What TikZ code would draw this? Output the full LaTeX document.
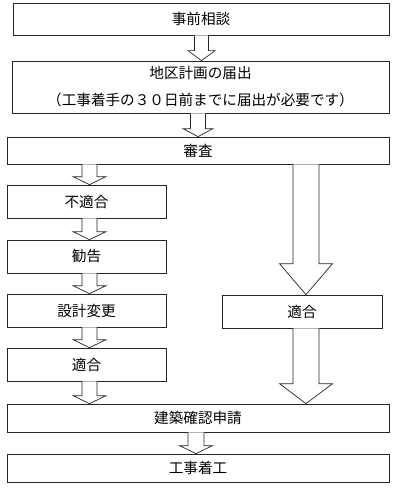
\documentclass[tikz,border=0pt]{standalone}
\usepackage{fontspec}
\newfontfamily\jpfont{Noto Sans CJK JP}
\usetikzlibrary{calc}

\newcommand{\fatarrow}[6]{%
  \draw[arr] let \p1=(#2.south), \p2=(#3.north) in
    (#1pt-#4pt,\y1) -- (#1pt-#4pt,\y2+#6pt) -- (#1pt-#5pt,\y2+#6pt) -- (#1pt,\y2)
    -- (#1pt+#5pt,\y2+#6pt) -- (#1pt+#4pt,\y2+#6pt) -- (#1pt+#4pt,\y1);
}

\begin{document}
\begin{tikzpicture}[x=1pt,y=-1pt,
    box/.style={draw=black!85,line width=0.7pt,rectangle,inner sep=0pt,font=\jpfont\fontsize{14.6}{27}\selectfont},
    arr/.style={draw=black!85,line width=0.7pt,fill=white,line join=miter}]
  \useasboundingbox (0,0) rectangle (400,492);

  \node[box,minimum width=376pt,minimum height=32pt] (consult) at (201,19) {事前相談};
  \node[box,minimum width=377pt,minimum height=52pt,align=center] (notify) at (200.5,87)
    {地区計画の届出\\（工事着手の３０日前までに届出が必要です）};
  \node[box,minimum width=382pt,minimum height=27pt] (review) at (198,150.5) {審査};
  \node[box,minimum width=159pt,minimum height=33pt] (ng) at (86.5,201.5) {不適合};
  \node[box,minimum width=159pt,minimum height=33pt] (advise) at (86.5,256.5) {勧告};
  \node[box,minimum width=159pt,minimum height=33pt] (change) at (86.5,310.5) {設計変更};
  \node[box,minimum width=159pt,minimum height=33pt] (okleft) at (86.5,364.5) {適合};
  \node[box,minimum width=160pt,minimum height=33pt] (okright) at (302,311.5) {適合};
  \node[box,minimum width=382pt,minimum height=28pt] (apply) at (198,418) {建築確認申請};
  \node[box,minimum width=382pt,minimum height=28pt] (start) at (198,468) {工事着工};

  \fatarrow{201.5}{consult}{notify}{7}{13.5}{10}
  \fatarrow{198}{notify}{review}{7.5}{15}{8}
  \fatarrow{89.5}{review}{ng}{7.5}{16.5}{8}
  \fatarrow{89.5}{ng}{advise}{7.5}{16.5}{8}
  \fatarrow{89.5}{advise}{change}{7.5}{16.5}{8}
  \fatarrow{89.5}{change}{okleft}{7.5}{16.5}{8}
  \fatarrow{89.5}{okleft}{apply}{7.5}{16.5}{8}
  \fatarrow{306}{review}{okright}{13}{26.5}{31}
  \fatarrow{306}{okright}{apply}{13}{26.5}{20}
  \fatarrow{196}{apply}{start}{8}{16.5}{8}
\end{tikzpicture}
\end{document}
